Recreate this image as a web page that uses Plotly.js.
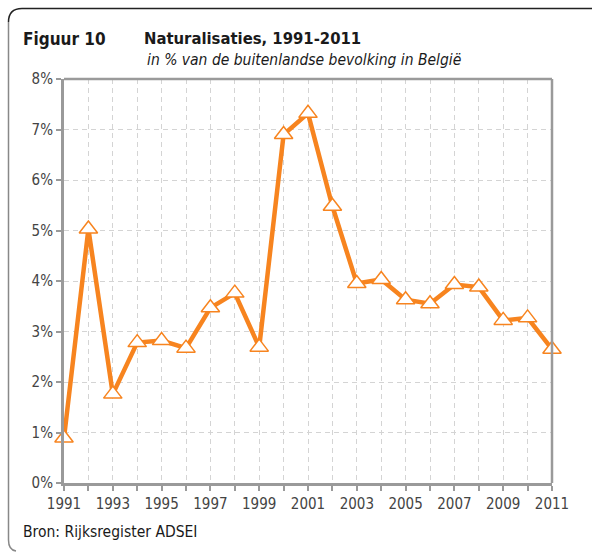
<!DOCTYPE html>
<html>
<head>
<meta charset="utf-8">
<script src="https://cdn.plot.ly/plotly-3.0.1.min.js"></script>
<style>html,body{margin:0;padding:0;background:#fff;}#chart{width:592px;height:554px;}</style>
</head>
<body>
<div id="chart"></div>
<script>
const years = [1991,1992,1993,1994,1995,1996,1997,1998,1999,2000,2001,2002,2003,2004,2005,2006,2007,2008,2009,2010,2011];
const values = [0.89,5.03,1.76,2.78,2.82,2.67,3.47,3.76,2.69,6.90,7.32,5.48,3.95,4.03,3.63,3.55,3.93,3.88,3.22,3.27,2.65];
const yTickVals = [0,1,2,3,4,5,6,7,8];
const yTickText = ['0%','1%','2%','3%','4%','5%','6%','7%','8%'];
const xTickText = years.map(y => (y % 2 === 1 ? String(y) : ''));

const FONT = '"DejaVu Sans Condensed", "DejaVu Sans", sans-serif';
const orange = '#F7841F';
const axisGrey = '#9a9a9a';

// paper coordinate helpers (plot area: x 64..552, y 79..483)
const L = 64, R = 552, T = 79, B = 483;
const px = X => (X - L) / (R - L);
const py = Y => (B - Y) / (B - T);

const trace = {
  x: years, y: values, type: 'scatter', mode: 'lines+markers',
  line: {color: orange, width: 4.5},
  marker: {symbol: 'triangle-up', size: 16, color: '#ffffff', line: {color: orange, width: 1.5}},
  cliponaxis: false, hoverinfo: 'skip'
};

const layout = {
  width: 592, height: 554,
  margin: {l: L, r: 592 - R, t: T, b: 554 - B, pad: 0},
  paper_bgcolor: '#ffffff', plot_bgcolor: '#ffffff',
  showlegend: false,
  font: {family: FONT, size: 14, color: '#444'},
  xaxis: {
    range: [1991, 2011], tickvals: years, ticktext: xTickText,
    showgrid: true, gridcolor: '#d4d4d4', griddash: '5px,4px', gridwidth: 1,
    showline: true, linecolor: axisGrey, linewidth: 3,
    ticks: 'outside', ticklen: 5, tickwidth: 2, tickcolor: axisGrey,
    tickfont: {family: FONT, size: 15, color: '#444'},
    zeroline: false, fixedrange: true
  },
  yaxis: {
    range: [0, 8], tickvals: yTickVals, ticktext: yTickText,
    showgrid: true, gridcolor: '#d4d4d4', griddash: '5px,4px', gridwidth: 1,
    showline: true, linecolor: axisGrey, linewidth: 3,
    ticks: 'outside', ticklen: 5, tickwidth: 2, tickcolor: axisGrey,
    tickfont: {family: FONT, size: 15, color: '#444'},
    zeroline: false, fixedrange: true
  },
  shapes: [
    {type: 'line', xref: 'paper', yref: 'paper', x0: 0, x1: 1, y0: 1, y1: 1, line: {color: axisGrey, width: 2.5}, layer: 'above'},
    {type: 'line', xref: 'paper', yref: 'paper', x0: 1, x1: 1, y0: 0, y1: 1, line: {color: axisGrey, width: 2.5}, layer: 'above'},
    {type: 'path', xref: 'paper', yref: 'paper',
     path: `M ${px(592)} ${py(8.5)} L ${px(22)} ${py(8.5)} Q ${px(8.5)} ${py(8.5)} ${px(8.5)} ${py(22)}`,
     line: {color: '#222', width: 1.5}},
    {type: 'path', xref: 'paper', yref: 'paper',
     path: `M ${px(8.5)} ${py(22)} L ${px(8.5)} ${py(540)} Q ${px(8.5)} ${py(550)} ${px(16)} ${py(551)}`,
     line: {color: '#888', width: 1.5}}
  ],
  annotations: [
    {xref: 'paper', yref: 'paper', x: px(21), y: py(39), xanchor: 'left', yanchor: 'middle', showarrow: false,
     text: '<b>Figuur 10</b>', font: {family: FONT, size: 17, color: '#1a1a1a'}},
    {xref: 'paper', yref: 'paper', x: px(142), y: py(39), xanchor: 'left', yanchor: 'middle', showarrow: false,
     text: '<b>Naturalisaties, 1991-2011</b>', font: {family: FONT, size: 16.5, color: '#1a1a1a'}},
    {xref: 'paper', yref: 'paper', x: px(145), y: py(60), xanchor: 'left', yanchor: 'middle', showarrow: false,
     text: '<i>in % van de buitenlandse bevolking in België</i>', font: {family: FONT, size: 15.5, color: '#1a1a1a'}},
    {xref: 'paper', yref: 'paper', x: px(21), y: py(532), xanchor: 'left', yanchor: 'middle', showarrow: false,
     text: 'Bron: Rijksregister ADSEI', font: {family: FONT, size: 15.5, color: '#1a1a1a'}}
  ]
};

Plotly.newPlot('chart', [trace], layout, {displayModeBar: false, staticPlot: true});
</script>
</body>
</html>
